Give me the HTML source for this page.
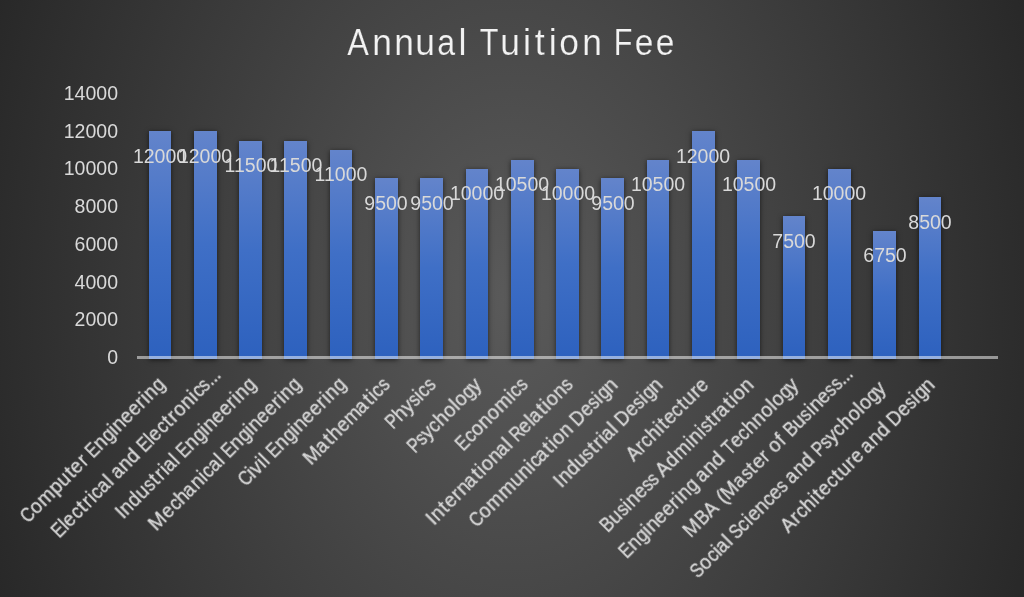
<!DOCTYPE html>
<html><head><meta charset="utf-8"><style>
html,body{margin:0;padding:0;background:#262626;}
#c{position:relative;width:1024px;height:597px;overflow:hidden;
background:radial-gradient(578px 822px at 50% 50%, #5a5a5a 0%, #262626 100%);
font-family:"Liberation Sans",sans-serif;color:#d9d9d9;}
.t{position:absolute;will-change:transform;left:0;width:1024px;height:42px;top:0;font-size:36px;color:#f2f2f2;white-space:nowrap;-webkit-text-stroke:0.2px #4a4a4a;}
i{position:absolute;top:0;font-style:normal;transform-origin:50% 50%;}
.yl{position:absolute;will-change:transform;font-size:19.5px;line-height:20px;text-align:right;width:60px;white-space:nowrap;}
.b{position:absolute;width:22.7px;background:linear-gradient(#6384cb,#3f6fc6 50%,#2d61be);box-shadow:0 1px 5px rgba(0,0,0,0.6);}
.ax{position:absolute;left:137.3px;width:860.5px;top:356.0px;height:2.8px;background:rgba(255,255,255,0.5);}
.vl{position:absolute;will-change:transform;font-size:19.5px;line-height:20px;width:80px;text-align:center;white-space:nowrap;}
.ca{position:absolute;will-change:transform;width:0;height:0;transform:rotate(-45deg);}
.cl{position:absolute;-webkit-text-stroke:0.3px #d9d9d9;left:0;top:-10.4px;width:0;height:20px;font-size:19.5px;line-height:20px;white-space:nowrap;}
</style></head><body><div id="c">
<div class="t" style="top:22px"><i class="g" style="left:346.46px;transform:scaleX(0.900);transform-origin:12.01px 50%">A</i><i class="g" style="left:371.59px;transform:scaleX(0.980);transform-origin:10.04px 50%">n</i><i class="g" style="left:393.63px;transform:scaleX(0.980);transform-origin:10.04px 50%">n</i><i class="g" style="left:415.45px;transform:scaleX(0.980);transform-origin:9.98px 50%">u</i><i class="g" style="left:435.59px;transform:scaleX(0.893);transform-origin:10.78px 50%">a</i><i class="g" style="left:458.40px">l</i><i class="g" style="left:478.10px;transform:scaleX(0.850);transform-origin:10.99px 50%">T</i><i class="g" style="left:500.30px;transform:scaleX(0.980);transform-origin:9.98px 50%">u</i><i class="g" style="left:522.92px">i</i><i class="g" style="left:534.74px">t</i><i class="g" style="left:548.85px">i</i><i class="g" style="left:559.41px;transform:scaleX(0.983);transform-origin:10.01px 50%">o</i><i class="g" style="left:581.60px;transform:scaleX(0.980);transform-origin:10.04px 50%">n</i><i class="g" style="left:612.15px;transform:scaleX(0.850);transform-origin:11.75px 50%">F</i><i class="g" style="left:633.51px;transform:scaleX(0.928);transform-origin:9.98px 50%">e</i><i class="g" style="left:654.52px;transform:scaleX(0.928);transform-origin:9.98px 50%">e</i></div>
<div class="yl" style="left:57.5px;top:347.20px">0</div>
<div class="yl" style="left:57.5px;top:309.45px">2000</div>
<div class="yl" style="left:57.5px;top:271.70px">4000</div>
<div class="yl" style="left:57.5px;top:233.95px">6000</div>
<div class="yl" style="left:57.5px;top:196.20px">8000</div>
<div class="yl" style="left:57.5px;top:158.45px">10000</div>
<div class="yl" style="left:57.5px;top:120.70px">12000</div>
<div class="yl" style="left:57.5px;top:82.95px">14000</div>
<div class="b" style="left:148.59px;top:131.08px;height:227.52px"></div>
<div class="b" style="left:193.88px;top:131.08px;height:227.52px"></div>
<div class="b" style="left:239.17px;top:140.56px;height:218.04px"></div>
<div class="b" style="left:284.46px;top:140.56px;height:218.04px"></div>
<div class="b" style="left:329.75px;top:150.04px;height:208.56px"></div>
<div class="b" style="left:375.04px;top:178.48px;height:180.12px"></div>
<div class="b" style="left:420.33px;top:178.48px;height:180.12px"></div>
<div class="b" style="left:465.62px;top:169.00px;height:189.60px"></div>
<div class="b" style="left:510.91px;top:159.52px;height:199.08px"></div>
<div class="b" style="left:556.20px;top:169.00px;height:189.60px"></div>
<div class="b" style="left:601.49px;top:178.48px;height:180.12px"></div>
<div class="b" style="left:646.78px;top:159.52px;height:199.08px"></div>
<div class="b" style="left:692.07px;top:131.08px;height:227.52px"></div>
<div class="b" style="left:737.36px;top:159.52px;height:199.08px"></div>
<div class="b" style="left:782.65px;top:216.40px;height:142.20px"></div>
<div class="b" style="left:827.94px;top:169.00px;height:189.60px"></div>
<div class="b" style="left:873.23px;top:230.62px;height:127.98px"></div>
<div class="b" style="left:918.52px;top:197.44px;height:161.16px"></div>
<div class="ax"></div>
<div class="vl" style="left:119.94px;top:145.53px">12000</div>
<div class="vl" style="left:165.23px;top:145.53px">12000</div>
<div class="vl" style="left:210.52px;top:155.01px">11500</div>
<div class="vl" style="left:255.81px;top:155.01px">11500</div>
<div class="vl" style="left:301.10px;top:164.49px">11000</div>
<div class="vl" style="left:346.39px;top:192.93px">9500</div>
<div class="vl" style="left:391.68px;top:192.93px">9500</div>
<div class="vl" style="left:436.97px;top:183.45px">10000</div>
<div class="vl" style="left:482.26px;top:173.97px">10500</div>
<div class="vl" style="left:527.55px;top:183.45px">10000</div>
<div class="vl" style="left:572.84px;top:192.93px">9500</div>
<div class="vl" style="left:618.13px;top:173.97px">10500</div>
<div class="vl" style="left:663.42px;top:145.53px">12000</div>
<div class="vl" style="left:708.71px;top:173.97px">10500</div>
<div class="vl" style="left:754.00px;top:230.85px">7500</div>
<div class="vl" style="left:799.29px;top:183.45px">10000</div>
<div class="vl" style="left:844.58px;top:245.07px">6750</div>
<div class="vl" style="left:889.87px;top:211.89px">8500</div>
<div class="ca" style="left:161.24px;top:380.50px"><div class="cl"><i class="g" style="left:-195.99px;transform:scaleX(0.850);transform-origin:7.16px 50%">C</i><i class="g" style="left:-183.08px">o</i><i class="g" style="left:-171.56px">m</i><i class="g" style="left:-154.69px">p</i><i class="g" style="left:-143.67px">u</i><i class="g" style="left:-131.81px">t</i><i class="g" style="left:-125.53px;transform:scaleX(0.979);transform-origin:5.40px 50%">e</i><i class="g" style="left:-114.37px">r</i><i class="g" style="left:-103.94px;transform:scaleX(0.850);transform-origin:6.88px 50%">E</i><i class="g" style="left:-91.91px">n</i><i class="g" style="left:-80.98px;transform:scaleX(0.926);transform-origin:5.20px 50%">g</i><i class="g" style="left:-70.64px">i</i><i class="g" style="left:-65.77px">n</i><i class="g" style="left:-54.90px;transform:scaleX(0.979);transform-origin:5.40px 50%">e</i><i class="g" style="left:-44.28px;transform:scaleX(0.979);transform-origin:5.40px 50%">e</i><i class="g" style="left:-33.12px">r</i><i class="g" style="left:-25.87px">i</i><i class="g" style="left:-21.00px">n</i><i class="g" style="left:-10.08px;transform:scaleX(0.926);transform-origin:5.20px 50%">g</i></div></div>
<div class="ca" style="left:206.53px;top:380.50px"><div class="cl"><i class="g" style="left:-217.18px;transform:scaleX(0.850);transform-origin:6.88px 50%">E</i><i class="g" style="left:-205.12px">l</i><i class="g" style="left:-200.59px;transform:scaleX(0.979);transform-origin:5.40px 50%">e</i><i class="g" style="left:-190.26px;transform:scaleX(0.925);transform-origin:5.03px 50%">c</i><i class="g" style="left:-180.09px">t</i><i class="g" style="left:-173.26px">r</i><i class="g" style="left:-166.01px">i</i><i class="g" style="left:-161.76px;transform:scaleX(0.925);transform-origin:5.03px 50%">c</i><i class="g" style="left:-153.32px;transform:scaleX(0.942);transform-origin:5.84px 50%">a</i><i class="g" style="left:-141.88px">l</i><i class="g" style="left:-133.38px;transform:scaleX(0.942);transform-origin:5.84px 50%">a</i><i class="g" style="left:-121.97px">n</i><i class="g" style="left:-110.98px">d</i><i class="g" style="left:-96.35px;transform:scaleX(0.850);transform-origin:6.88px 50%">E</i><i class="g" style="left:-84.29px">l</i><i class="g" style="left:-79.76px;transform:scaleX(0.979);transform-origin:5.40px 50%">e</i><i class="g" style="left:-69.43px;transform:scaleX(0.925);transform-origin:5.03px 50%">c</i><i class="g" style="left:-59.26px">t</i><i class="g" style="left:-52.44px">r</i><i class="g" style="left:-45.26px">o</i><i class="g" style="left:-33.97px">n</i><i class="g" style="left:-22.73px">i</i><i class="g" style="left:-18.48px;transform:scaleX(0.925);transform-origin:5.03px 50%">c</i><i class="g" style="left:-9.71px;transform:scaleX(0.856);transform-origin:4.79px 50%">s</i><i class="g" style="left:-0.81px">.</i><i class="g" style="left:3.92px">.</i><i class="g" style="left:8.65px">.</i></div></div>
<div class="ca" style="left:251.82px;top:380.50px"><div class="cl"><i class="g" style="left:-189.34px;transform:scaleX(0.992);transform-origin:2.71px 50%">I</i><i class="g" style="left:-183.70px">n</i><i class="g" style="left:-172.70px">d</i><i class="g" style="left:-161.41px">u</i><i class="g" style="left:-150.94px;transform:scaleX(0.856);transform-origin:4.79px 50%">s</i><i class="g" style="left:-141.20px">t</i><i class="g" style="left:-134.37px">r</i><i class="g" style="left:-127.13px">i</i><i class="g" style="left:-123.45px;transform:scaleX(0.942);transform-origin:5.84px 50%">a</i><i class="g" style="left:-112.01px">l</i><i class="g" style="left:-103.94px;transform:scaleX(0.850);transform-origin:6.88px 50%">E</i><i class="g" style="left:-91.91px">n</i><i class="g" style="left:-80.98px;transform:scaleX(0.926);transform-origin:5.20px 50%">g</i><i class="g" style="left:-70.64px">i</i><i class="g" style="left:-65.77px">n</i><i class="g" style="left:-54.90px;transform:scaleX(0.979);transform-origin:5.40px 50%">e</i><i class="g" style="left:-44.28px;transform:scaleX(0.979);transform-origin:5.40px 50%">e</i><i class="g" style="left:-33.12px">r</i><i class="g" style="left:-25.87px">i</i><i class="g" style="left:-21.00px">n</i><i class="g" style="left:-10.08px;transform:scaleX(0.926);transform-origin:5.20px 50%">g</i></div></div>
<div class="ca" style="left:297.11px;top:380.50px"><div class="cl"><i class="g" style="left:-205.92px">M</i><i class="g" style="left:-188.77px;transform:scaleX(0.979);transform-origin:5.40px 50%">e</i><i class="g" style="left:-178.44px;transform:scaleX(0.925);transform-origin:5.03px 50%">c</i><i class="g" style="left:-168.81px">h</i><i class="g" style="left:-158.79px;transform:scaleX(0.942);transform-origin:5.84px 50%">a</i><i class="g" style="left:-147.38px">n</i><i class="g" style="left:-136.15px">i</i><i class="g" style="left:-131.89px;transform:scaleX(0.925);transform-origin:5.03px 50%">c</i><i class="g" style="left:-123.45px;transform:scaleX(0.942);transform-origin:5.84px 50%">a</i><i class="g" style="left:-112.01px">l</i><i class="g" style="left:-103.94px;transform:scaleX(0.850);transform-origin:6.88px 50%">E</i><i class="g" style="left:-91.91px">n</i><i class="g" style="left:-80.98px;transform:scaleX(0.926);transform-origin:5.20px 50%">g</i><i class="g" style="left:-70.64px">i</i><i class="g" style="left:-65.77px">n</i><i class="g" style="left:-54.90px;transform:scaleX(0.979);transform-origin:5.40px 50%">e</i><i class="g" style="left:-44.28px;transform:scaleX(0.979);transform-origin:5.40px 50%">e</i><i class="g" style="left:-33.12px">r</i><i class="g" style="left:-25.87px">i</i><i class="g" style="left:-21.00px">n</i><i class="g" style="left:-10.08px;transform:scaleX(0.926);transform-origin:5.20px 50%">g</i></div></div>
<div class="ca" style="left:342.40px;top:380.50px"><div class="cl"><i class="g" style="left:-144.42px;transform:scaleX(0.850);transform-origin:7.16px 50%">C</i><i class="g" style="left:-131.44px">i</i><i class="g" style="left:-126.87px;transform:scaleX(0.988);transform-origin:4.88px 50%">v</i><i class="g" style="left:-116.91px">i</i><i class="g" style="left:-112.01px">l</i><i class="g" style="left:-103.94px;transform:scaleX(0.850);transform-origin:6.88px 50%">E</i><i class="g" style="left:-91.91px">n</i><i class="g" style="left:-80.98px;transform:scaleX(0.926);transform-origin:5.20px 50%">g</i><i class="g" style="left:-70.64px">i</i><i class="g" style="left:-65.77px">n</i><i class="g" style="left:-54.90px;transform:scaleX(0.979);transform-origin:5.40px 50%">e</i><i class="g" style="left:-44.28px;transform:scaleX(0.979);transform-origin:5.40px 50%">e</i><i class="g" style="left:-33.12px">r</i><i class="g" style="left:-25.87px">i</i><i class="g" style="left:-21.00px">n</i><i class="g" style="left:-10.08px;transform:scaleX(0.926);transform-origin:5.20px 50%">g</i></div></div>
<div class="ca" style="left:386.19px;top:380.50px"><div class="cl"><i class="g" style="left:-113.08px">M</i><i class="g" style="left:-96.79px;transform:scaleX(0.942);transform-origin:5.84px 50%">a</i><i class="g" style="left:-84.85px">t</i><i class="g" style="left:-78.25px">h</i><i class="g" style="left:-67.36px;transform:scaleX(0.979);transform-origin:5.40px 50%">e</i><i class="g" style="left:-56.18px">m</i><i class="g" style="left:-40.57px;transform:scaleX(0.942);transform-origin:5.84px 50%">a</i><i class="g" style="left:-28.62px">t</i><i class="g" style="left:-21.99px">i</i><i class="g" style="left:-17.73px;transform:scaleX(0.925);transform-origin:5.03px 50%">c</i><i class="g" style="left:-8.96px;transform:scaleX(0.856);transform-origin:4.79px 50%">s</i></div></div>
<div class="ca" style="left:431.98px;top:380.50px"><div class="cl"><i class="g" style="left:-63.33px;transform:scaleX(0.850);transform-origin:6.79px 50%">P</i><i class="g" style="left:-51.23px">h</i><i class="g" style="left:-40.32px;transform:scaleX(0.990);transform-origin:4.88px 50%">y</i><i class="g" style="left:-31.22px;transform:scaleX(0.856);transform-origin:4.79px 50%">s</i><i class="g" style="left:-21.99px">i</i><i class="g" style="left:-17.73px;transform:scaleX(0.925);transform-origin:5.03px 50%">c</i><i class="g" style="left:-8.96px;transform:scaleX(0.856);transform-origin:4.79px 50%">s</i></div></div>
<div class="ca" style="left:478.27px;top:380.50px"><div class="cl"><i class="g" style="left:-97.18px;transform:scaleX(0.850);transform-origin:6.79px 50%">P</i><i class="g" style="left:-85.93px;transform:scaleX(0.856);transform-origin:4.79px 50%">s</i><i class="g" style="left:-77.04px;transform:scaleX(0.990);transform-origin:4.88px 50%">y</i><i class="g" style="left:-67.68px;transform:scaleX(0.925);transform-origin:5.03px 50%">c</i><i class="g" style="left:-58.06px">h</i><i class="g" style="left:-46.88px">o</i><i class="g" style="left:-35.56px">l</i><i class="g" style="left:-30.74px">o</i><i class="g" style="left:-19.73px;transform:scaleX(0.926);transform-origin:5.20px 50%">g</i><i class="g" style="left:-9.72px;transform:scaleX(0.990);transform-origin:4.88px 50%">y</i></div></div>
<div class="ca" style="left:523.56px;top:380.50px"><div class="cl"><i class="g" style="left:-93.80px;transform:scaleX(0.850);transform-origin:6.88px 50%">E</i><i class="g" style="left:-82.39px;transform:scaleX(0.925);transform-origin:5.03px 50%">c</i><i class="g" style="left:-72.80px">o</i><i class="g" style="left:-61.51px">n</i><i class="g" style="left:-50.34px">o</i><i class="g" style="left:-38.82px">m</i><i class="g" style="left:-21.99px">i</i><i class="g" style="left:-17.73px;transform:scaleX(0.925);transform-origin:5.03px 50%">c</i><i class="g" style="left:-8.96px;transform:scaleX(0.856);transform-origin:4.79px 50%">s</i></div></div>
<div class="ca" style="left:568.85px;top:380.50px"><div class="cl"><i class="g" style="left:-197.79px;transform:scaleX(0.992);transform-origin:2.71px 50%">I</i><i class="g" style="left:-192.15px">n</i><i class="g" style="left:-180.41px">t</i><i class="g" style="left:-174.14px;transform:scaleX(0.979);transform-origin:5.40px 50%">e</i><i class="g" style="left:-162.97px">r</i><i class="g" style="left:-155.75px">n</i><i class="g" style="left:-145.74px;transform:scaleX(0.942);transform-origin:5.84px 50%">a</i><i class="g" style="left:-133.80px">t</i><i class="g" style="left:-127.16px">i</i><i class="g" style="left:-122.33px">o</i><i class="g" style="left:-111.04px">n</i><i class="g" style="left:-101.02px;transform:scaleX(0.942);transform-origin:5.84px 50%">a</i><i class="g" style="left:-89.58px">l</i><i class="g" style="left:-81.13px;transform:scaleX(0.850);transform-origin:7.39px 50%">R</i><i class="g" style="left:-68.65px;transform:scaleX(0.979);transform-origin:5.40px 50%">e</i><i class="g" style="left:-57.67px">l</i><i class="g" style="left:-54.00px;transform:scaleX(0.942);transform-origin:5.84px 50%">a</i><i class="g" style="left:-42.06px">t</i><i class="g" style="left:-35.42px">i</i><i class="g" style="left:-30.60px">o</i><i class="g" style="left:-19.30px">n</i><i class="g" style="left:-8.96px;transform:scaleX(0.856);transform-origin:4.79px 50%">s</i></div></div>
<div class="ca" style="left:614.14px;top:380.50px"><div class="cl"><i class="g" style="left:-202.12px;transform:scaleX(0.850);transform-origin:7.16px 50%">C</i><i class="g" style="left:-189.21px">o</i><i class="g" style="left:-177.68px">m</i><i class="g" style="left:-160.64px">m</i><i class="g" style="left:-143.96px">u</i><i class="g" style="left:-132.63px">n</i><i class="g" style="left:-121.40px">i</i><i class="g" style="left:-117.14px;transform:scaleX(0.925);transform-origin:5.03px 50%">c</i><i class="g" style="left:-108.70px;transform:scaleX(0.942);transform-origin:5.84px 50%">a</i><i class="g" style="left:-96.76px">t</i><i class="g" style="left:-90.12px">i</i><i class="g" style="left:-85.30px">o</i><i class="g" style="left:-74.00px">n</i><i class="g" style="left:-58.66px;transform:scaleX(0.932);transform-origin:7.37px 50%">D</i><i class="g" style="left:-45.19px;transform:scaleX(0.979);transform-origin:5.40px 50%">e</i><i class="g" style="left:-35.10px;transform:scaleX(0.856);transform-origin:4.79px 50%">s</i><i class="g" style="left:-25.87px">i</i><i class="g" style="left:-21.28px;transform:scaleX(0.926);transform-origin:5.20px 50%">g</i><i class="g" style="left:-10.96px">n</i></div></div>
<div class="ca" style="left:659.43px;top:380.50px"><div class="cl"><i class="g" style="left:-144.99px;transform:scaleX(0.992);transform-origin:2.71px 50%">I</i><i class="g" style="left:-139.35px">n</i><i class="g" style="left:-128.35px">d</i><i class="g" style="left:-117.06px">u</i><i class="g" style="left:-106.59px;transform:scaleX(0.856);transform-origin:4.79px 50%">s</i><i class="g" style="left:-96.85px">t</i><i class="g" style="left:-90.03px">r</i><i class="g" style="left:-82.78px">i</i><i class="g" style="left:-79.10px;transform:scaleX(0.942);transform-origin:5.84px 50%">a</i><i class="g" style="left:-67.66px">l</i><i class="g" style="left:-58.66px;transform:scaleX(0.932);transform-origin:7.37px 50%">D</i><i class="g" style="left:-45.19px;transform:scaleX(0.979);transform-origin:5.40px 50%">e</i><i class="g" style="left:-35.10px;transform:scaleX(0.856);transform-origin:4.79px 50%">s</i><i class="g" style="left:-25.87px">i</i><i class="g" style="left:-21.28px;transform:scaleX(0.926);transform-origin:5.20px 50%">g</i><i class="g" style="left:-10.96px">n</i></div></div>
<div class="ca" style="left:704.72px;top:380.50px"><div class="cl"><i class="g" style="left:-108.40px;transform:scaleX(0.949);transform-origin:6.50px 50%">A</i><i class="g" style="left:-95.28px">r</i><i class="g" style="left:-88.67px;transform:scaleX(0.925);transform-origin:5.03px 50%">c</i><i class="g" style="left:-79.05px">h</i><i class="g" style="left:-67.80px">i</i><i class="g" style="left:-62.40px">t</i><i class="g" style="left:-56.12px;transform:scaleX(0.979);transform-origin:5.40px 50%">e</i><i class="g" style="left:-45.79px;transform:scaleX(0.925);transform-origin:5.03px 50%">c</i><i class="g" style="left:-35.62px">t</i><i class="g" style="left:-29.14px">u</i><i class="g" style="left:-17.59px">r</i><i class="g" style="left:-10.70px;transform:scaleX(0.979);transform-origin:5.40px 50%">e</i></div></div>
<div class="ca" style="left:750.01px;top:380.50px"><div class="cl"><i class="g" style="left:-209.29px;transform:scaleX(0.892);transform-origin:6.79px 50%">B</i><i class="g" style="left:-196.87px">u</i><i class="g" style="left:-186.40px;transform:scaleX(0.856);transform-origin:4.79px 50%">s</i><i class="g" style="left:-177.17px">i</i><i class="g" style="left:-172.30px">n</i><i class="g" style="left:-161.43px;transform:scaleX(0.979);transform-origin:5.40px 50%">e</i><i class="g" style="left:-151.34px;transform:scaleX(0.856);transform-origin:4.79px 50%">s</i><i class="g" style="left:-143.00px;transform:scaleX(0.856);transform-origin:4.79px 50%">s</i><i class="g" style="left:-129.55px;transform:scaleX(0.949);transform-origin:6.50px 50%">A</i><i class="g" style="left:-116.84px">d</i><i class="g" style="left:-105.19px">m</i><i class="g" style="left:-88.36px">i</i><i class="g" style="left:-83.49px">n</i><i class="g" style="left:-72.26px">i</i><i class="g" style="left:-68.25px;transform:scaleX(0.856);transform-origin:4.79px 50%">s</i><i class="g" style="left:-58.52px">t</i><i class="g" style="left:-51.69px">r</i><i class="g" style="left:-45.66px;transform:scaleX(0.942);transform-origin:5.84px 50%">a</i><i class="g" style="left:-33.72px">t</i><i class="g" style="left:-27.08px">i</i><i class="g" style="left:-22.25px">o</i><i class="g" style="left:-10.96px">n</i></div></div>
<div class="ca" style="left:795.30px;top:380.50px"><div class="cl"><i class="g" style="left:-245.74px;transform:scaleX(0.850);transform-origin:6.88px 50%">E</i><i class="g" style="left:-233.71px">n</i><i class="g" style="left:-222.78px;transform:scaleX(0.926);transform-origin:5.20px 50%">g</i><i class="g" style="left:-212.44px">i</i><i class="g" style="left:-207.57px">n</i><i class="g" style="left:-196.70px;transform:scaleX(0.979);transform-origin:5.40px 50%">e</i><i class="g" style="left:-186.08px;transform:scaleX(0.979);transform-origin:5.40px 50%">e</i><i class="g" style="left:-174.92px">r</i><i class="g" style="left:-167.67px">i</i><i class="g" style="left:-162.80px">n</i><i class="g" style="left:-151.88px;transform:scaleX(0.926);transform-origin:5.20px 50%">g</i><i class="g" style="left:-137.93px;transform:scaleX(0.942);transform-origin:5.84px 50%">a</i><i class="g" style="left:-126.52px">n</i><i class="g" style="left:-115.52px">d</i><i class="g" style="left:-100.28px;transform:scaleX(0.873);transform-origin:5.95px 50%">T</i><i class="g" style="left:-89.22px;transform:scaleX(0.979);transform-origin:5.40px 50%">e</i><i class="g" style="left:-78.89px;transform:scaleX(0.925);transform-origin:5.03px 50%">c</i><i class="g" style="left:-69.27px">h</i><i class="g" style="left:-58.05px">n</i><i class="g" style="left:-46.88px">o</i><i class="g" style="left:-35.56px">l</i><i class="g" style="left:-30.74px">o</i><i class="g" style="left:-19.73px;transform:scaleX(0.926);transform-origin:5.20px 50%">g</i><i class="g" style="left:-9.72px;transform:scaleX(0.990);transform-origin:4.88px 50%">y</i></div></div>
<div class="ca" style="left:840.59px;top:380.50px"><div class="cl" style="margin-top:-1.2px"><i class="g" style="left:-217.64px">M</i><i class="g" style="left:-201.10px;transform:scaleX(0.892);transform-origin:6.79px 50%">B</i><i class="g" style="left:-189.13px;transform:scaleX(0.949);transform-origin:6.50px 50%">A</i><i class="g" style="left:-170.12px;transform:scaleX(0.996);transform-origin:3.79px 50%">(</i><i class="g" style="left:-164.17px">M</i><i class="g" style="left:-147.88px;transform:scaleX(0.942);transform-origin:5.84px 50%">a</i><i class="g" style="left:-137.33px;transform:scaleX(0.856);transform-origin:4.79px 50%">s</i><i class="g" style="left:-127.60px">t</i><i class="g" style="left:-121.32px;transform:scaleX(0.979);transform-origin:5.40px 50%">e</i><i class="g" style="left:-110.16px">r</i><i class="g" style="left:-98.16px">o</i><i class="g" style="left:-86.66px">f</i><i class="g" style="left:-76.47px;transform:scaleX(0.892);transform-origin:6.79px 50%">B</i><i class="g" style="left:-64.06px">u</i><i class="g" style="left:-53.59px;transform:scaleX(0.856);transform-origin:4.79px 50%">s</i><i class="g" style="left:-44.36px">i</i><i class="g" style="left:-39.49px">n</i><i class="g" style="left:-28.62px;transform:scaleX(0.979);transform-origin:5.40px 50%">e</i><i class="g" style="left:-18.53px;transform:scaleX(0.856);transform-origin:4.79px 50%">s</i><i class="g" style="left:-10.19px;transform:scaleX(0.856);transform-origin:4.79px 50%">s</i><i class="g" style="left:-1.29px">.</i><i class="g" style="left:3.44px">.</i><i class="g" style="left:8.17px">.</i></div></div>
<div class="ca" style="left:885.88px;top:380.50px"><div class="cl"><i class="g" style="left:-273.70px;transform:scaleX(0.850);transform-origin:6.50px 50%">S</i><i class="g" style="left:-262.01px">o</i><i class="g" style="left:-251.33px;transform:scaleX(0.925);transform-origin:5.03px 50%">c</i><i class="g" style="left:-241.67px">i</i><i class="g" style="left:-237.99px;transform:scaleX(0.942);transform-origin:5.84px 50%">a</i><i class="g" style="left:-226.55px">l</i><i class="g" style="left:-218.80px;transform:scaleX(0.850);transform-origin:6.50px 50%">S</i><i class="g" style="left:-207.68px;transform:scaleX(0.925);transform-origin:5.03px 50%">c</i><i class="g" style="left:-198.02px">i</i><i class="g" style="left:-193.49px;transform:scaleX(0.979);transform-origin:5.40px 50%">e</i><i class="g" style="left:-182.54px">n</i><i class="g" style="left:-171.95px;transform:scaleX(0.925);transform-origin:5.03px 50%">c</i><i class="g" style="left:-162.65px;transform:scaleX(0.979);transform-origin:5.40px 50%">e</i><i class="g" style="left:-152.56px;transform:scaleX(0.856);transform-origin:4.79px 50%">s</i><i class="g" style="left:-139.73px;transform:scaleX(0.942);transform-origin:5.84px 50%">a</i><i class="g" style="left:-128.32px">n</i><i class="g" style="left:-117.32px">d</i><i class="g" style="left:-102.18px;transform:scaleX(0.850);transform-origin:6.79px 50%">P</i><i class="g" style="left:-90.93px;transform:scaleX(0.856);transform-origin:4.79px 50%">s</i><i class="g" style="left:-82.04px;transform:scaleX(0.990);transform-origin:4.88px 50%">y</i><i class="g" style="left:-72.68px;transform:scaleX(0.925);transform-origin:5.03px 50%">c</i><i class="g" style="left:-63.06px">h</i><i class="g" style="left:-51.88px">o</i><i class="g" style="left:-40.56px">l</i><i class="g" style="left:-35.74px">o</i><i class="g" style="left:-24.73px;transform:scaleX(0.926);transform-origin:5.20px 50%">g</i><i class="g" style="left:-14.72px;transform:scaleX(0.990);transform-origin:4.88px 50%">y</i></div></div>
<div class="ca" style="left:931.17px;top:380.50px"><div class="cl"><i class="g" style="left:-208.90px;transform:scaleX(0.949);transform-origin:6.50px 50%">A</i><i class="g" style="left:-195.77px">r</i><i class="g" style="left:-189.16px;transform:scaleX(0.925);transform-origin:5.03px 50%">c</i><i class="g" style="left:-179.54px">h</i><i class="g" style="left:-168.30px">i</i><i class="g" style="left:-162.90px">t</i><i class="g" style="left:-156.62px;transform:scaleX(0.979);transform-origin:5.40px 50%">e</i><i class="g" style="left:-146.29px;transform:scaleX(0.925);transform-origin:5.03px 50%">c</i><i class="g" style="left:-136.12px">t</i><i class="g" style="left:-129.63px">u</i><i class="g" style="left:-118.08px">r</i><i class="g" style="left:-111.20px;transform:scaleX(0.979);transform-origin:5.40px 50%">e</i><i class="g" style="left:-96.62px;transform:scaleX(0.942);transform-origin:5.84px 50%">a</i><i class="g" style="left:-85.21px">n</i><i class="g" style="left:-74.21px">d</i><i class="g" style="left:-58.66px;transform:scaleX(0.932);transform-origin:7.37px 50%">D</i><i class="g" style="left:-45.19px;transform:scaleX(0.979);transform-origin:5.40px 50%">e</i><i class="g" style="left:-35.10px;transform:scaleX(0.856);transform-origin:4.79px 50%">s</i><i class="g" style="left:-25.87px">i</i><i class="g" style="left:-21.28px;transform:scaleX(0.926);transform-origin:5.20px 50%">g</i><i class="g" style="left:-10.96px">n</i></div></div>
</div></body></html>
